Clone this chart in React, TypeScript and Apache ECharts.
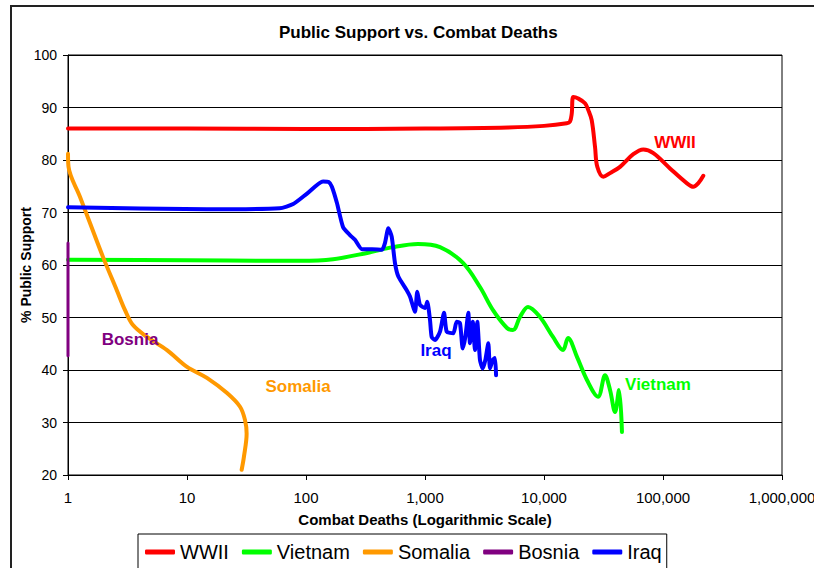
import React, { useEffect, useRef } from "react";
import * as echarts from "echarts";

const seriesNames = ["WWII", "Vietnam", "Somalia", "Bosnia", "Iraq"];
const seriesColors = ["#FF0000", "#00FF00", "#FF9900", "#800080", "#0000FF"];

// [combat deaths, % public support]
const wwii: [number, number][] = [
  [1, 86], [10, 86], [100, 85.9], [1000, 86], [5000, 86.2], [10000, 86.5],
  [15520, 87.0], [16520, 87.3], [17100, 88.8], [17630, 92.0], [19410, 91.7],
  [22110, 90.8], [23580, 89.5], [25170, 87.6], [26840, 82.5], [28050, 78.7],
  [31530, 76.8], [35890, 77.5], [43540, 78.7], [56280, 81.1], [68330, 82.0],
  [82940, 81.3], [114500, 78.4], [158200, 75.6], [179800, 74.9], [198200, 75.6],
  [218100, 77.0],
];

const vietnam: [number, number][] = [
  [1, 61], [10, 60.9], [50, 60.8], [89, 60.8], [169, 61.1], [326, 62.3],
  [538, 63.4], [873, 64], [1337, 63.4], [2085, 60.4], [2897, 55.8],
  [3727, 51.4], [4887, 48], [5485, 47.6], [6285, 50.1], [7339, 52],
  [9252, 50.1], [11900, 46.3], [14450, 43.8], [15920, 46.1], [18930, 42.5],
  [22960, 38.1], [28440, 34.9], [32580, 39], [35890, 36.2], [39530, 32],
  [42690, 36.2], [45200, 28.2],
];

const somalia: [number, number][] = [
  [1, 81.2], [1.01, 78.7], [1.26, 73], [1.53, 68], [1.97, 61.5], [2.57, 55.2],
  [3.0, 51.5], [3.5, 48.6], [4.61, 46.3], [6.79, 43.8], [10, 40.6],
  [14.7, 38.5], [21.7, 35.6], [27.9, 33], [30.7, 30.5], [31.7, 27.9],
  [30.1, 23.5], [28.8, 21],
];

const bosnia: [number, number][] = [
  [1, 64.2], [1, 42.7],
];

const iraq: [number, number][] = [
  [1, 71], [14.7, 70.6], [60, 70.8], [78, 71.6], [102, 73.6], [139, 75.9],
  [155, 75.8], [165, 74.9], [182, 71.8], [205, 67.2], [234, 65.7], [258, 64.8],
  [296, 63], [359, 63], [435, 62.9], [461, 64.2], [492, 67.0], [525, 65.4],
  [560, 60.3], [597, 57.8], [702, 55.2], [748, 54.0], [824, 51.1], [861, 54.9],
  [908, 52.4], [1000, 51.8], [1045, 53.0], [1102, 49.5], [1138, 46.3],
  [1214, 45.7], [1337, 47.3], [1445, 50.9], [1522, 47.3], [1729, 47.0],
  [1845, 49.2], [1968, 48.9], [2075, 44.1], [2183, 46.3], [2312, 50.9],
  [2388, 45.1], [2518, 49.2], [2630, 43.8], [2750, 49.2], [2897, 41.9],
  [3055, 40.3], [3214, 41.9], [3404, 45.1], [3516, 40.3], [3707, 41.9],
  [3874, 42.3], [3955, 39.0],
];

const seriesData = [wwii, vietnam, somalia, bosnia, iraq];
const seriesSmooth = [0.35, 0.35, 0.35, 0, 0.2];
const seriesWidth = [4, 4, 4, 3, 4];

// in-chart labels, anchored in data coordinates
const labelTexts = ["WWII", "Vietnam", "Somalia", "Bosnia", "Iraq"];
const labelAnchors: [number, number][] = [
  [126000, 83.4], [90800, 37.3], [85.7, 36.8], [3.32, 45.9], [1237, 43.8],
];

const FONT = "Arial, 'Liberation Sans', sans-serif";

export default function App() {
  const ref = useRef<HTMLDivElement>(null);

  useEffect(() => {
    document.body.style.margin = "0";
    if (!ref.current) return;
    const chart = echarts.init(ref.current, null, { renderer: "svg" });
    const option: any = {
      animation: false,
      backgroundColor: "#fff",
      textStyle: { fontFamily: FONT },
      title: {
        text: "Public Support vs. Combat Deaths",
        left: 279,
        top: 24,
        padding: 0,
        textStyle: { fontFamily: FONT, fontSize: 17, fontWeight: "bold", color: "#000" },
      },
      legend: {
        data: seriesNames,
        left: 138,
        top: 534,
        padding: [8, 5, 8, 7],
        itemGap: 13,
        itemWidth: 30,
        itemHeight: 5,
        icon: "roundRect",
        borderColor: "#000",
        borderWidth: 1,
        textStyle: { fontFamily: FONT, fontSize: 20, color: "#000" },
      },
      grid: {
        left: 68,
        top: 55,
        right: 32,
        bottom: 93,
        containLabel: false,
        outerBoundsMode: "none",
        show: true,
        borderColor: "#000",
        borderWidth: 1,
        backgroundColor: "#fff",
      },
      xAxis: {
        type: "log",
        logBase: 10,
        min: 1,
        max: 1000000,
        name: "Combat Deaths (Logarithmic Scale)",
        nameLocation: "middle",
        nameGap: 37,
        nameMoveOverlap: false,
        nameTextStyle: { fontFamily: FONT, fontSize: 15, fontWeight: "bold", color: "#000" },
        axisLine: { show: true, lineStyle: { color: "#000", width: 1 } },
        axisTick: { show: true, inside: false, length: 5, lineStyle: { color: "#000" } },
        minorTick: { show: false },
        splitLine: { show: false },
        axisLabel: {
          fontFamily: FONT,
          fontSize: 15,
          color: "#000",
          margin: 15,
          hideOverlap: false,
          formatter: (v: number) => Math.round(v).toLocaleString("en-US"),
        },
      },
      yAxis: {
        type: "value",
        min: 20,
        max: 100,
        interval: 10,
        name: "% Public Support",
        nameLocation: "middle",
        nameGap: 35,
        nameMoveOverlap: false,
        nameRotate: 90,
        nameTextStyle: { fontFamily: FONT, fontSize: 14, fontWeight: "bold", color: "#000" },
        axisLine: { show: true, lineStyle: { color: "#000", width: 1 } },
        axisTick: { show: true, inside: false, length: 5, lineStyle: { color: "#000" } },
        splitLine: { show: true, lineStyle: { color: "#000", width: 1 } },
        axisLabel: { fontFamily: FONT, fontSize: 14, color: "#000", margin: 11 },
      },
      series: seriesNames.map((name, i) => ({
        name,
        type: "line",
        data: seriesData[i],
        smooth: seriesSmooth[i],
        showSymbol: false,
        symbol: "none",
        color: seriesColors[i],
        lineStyle: { color: seriesColors[i], width: seriesWidth[i], cap: "round", join: "round" },
        z: 2 + i,
      })),
    };
    chart.setOption(option);

    const labelGraphics = labelTexts.map((t, i) => {
      const p = chart.convertToPixel({ gridIndex: 0 }, labelAnchors[i]) as number[];
      return {
        type: "text",
        x: p[0],
        y: p[1],
        z: 50,
        silent: true,
        style: {
          text: t,
          fill: seriesColors[i],
          font: `bold 17px ${FONT}`,
          align: "center",
          verticalAlign: "middle",
        },
      };
    });
    chart.setOption({
      graphic: [
        {
          type: "rect",
          silent: true,
          z: 100,
          shape: { x: 11, y: 6, width: 840, height: 620 },
          style: { fill: "none", stroke: "#222", lineWidth: 2 },
        },
        ...labelGraphics,
      ],
    });

    return () => chart.dispose();
  }, []);

  return (
    <div
      ref={ref}
      style={{ position: "absolute", left: 0, top: 0, width: 814, height: 568 }}
    />
  );
}
